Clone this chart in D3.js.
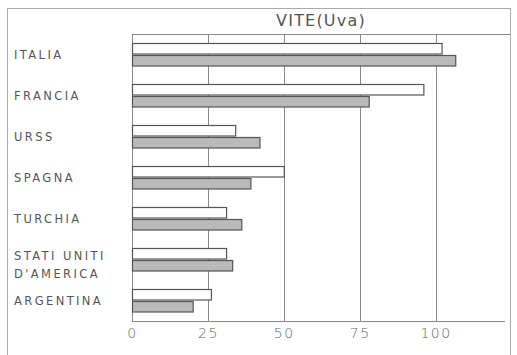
<!DOCTYPE html>
<html>
<head>
<meta charset="utf-8">
<script src="https://cdn.jsdelivr.net/npm/d3@7"></script>
<style>
  html, body { margin: 0; padding: 0; background: #fff; }
  svg { display: block; }
</style>
</head>
<body>
<svg id="chart" width="517" height="355"></svg>
<script>
const title = "VITE(Uva)";
const categories = ["ITALIA", "FRANCIA", "URSS", "SPAGNA", "TURCHIA", "STATI UNITI|D'AMERICA", "ARGENTINA"];
const whiteValues = [102, 96, 34, 50, 31, 31, 26];
const grayValues = [106.5, 78, 42, 39, 36, 33, 20];
const tickValues = [0, 25, 50, 75, 100];

const svg = d3.select("#chart");
const plotLeft = 132, plotTop = 34, plotBottom = 321, plotRight = 510;

const x = d3.scaleLinear().domain([0, 100]).range([plotLeft, 435.5]);
const y = d3.scaleBand().domain(categories).range([plotTop, plotBottom]);

const lineColor = "#8a8a8a";
const textColor = "#555";

// outer frame
svg.append("rect")
  .attr("x", 7.5).attr("y", 8.5)
  .attr("width", 503).attr("height", 360)
  .attr("fill", "none").attr("stroke", "#aaa").attr("stroke-width", 1);

// title
svg.append("text")
  .attr("x", 321).attr("y", 26)
  .attr("text-anchor", "middle")
  .attr("font-family", "DejaVu Sans, sans-serif")
  .attr("font-size", 16)
  .attr("letter-spacing", 1.2)
  .attr("fill", textColor)
  .text(title);

// top and bottom lines of the plot
svg.append("line")
  .attr("x1", plotLeft).attr("x2", plotRight)
  .attr("y1", plotTop + 0.5).attr("y2", plotTop + 0.5)
  .attr("stroke", lineColor).attr("stroke-width", 1);
svg.append("line")
  .attr("x1", plotLeft).attr("x2", 505)
  .attr("y1", plotBottom + 0.5).attr("y2", plotBottom + 0.5)
  .attr("stroke", lineColor).attr("stroke-width", 1);

// vertical grid lines
svg.append("g").selectAll("line")
  .data(tickValues)
  .join("line")
  .attr("x1", d => Math.round(x(d)) + 0.5)
  .attr("x2", d => Math.round(x(d)) + 0.5)
  .attr("y1", plotTop).attr("y2", plotBottom)
  .attr("stroke", lineColor).attr("stroke-width", 1);

// bars
const barH = 10.5;
const groups = svg.append("g").selectAll("g")
  .data(categories.map((c, i) => ({c, w: whiteValues[i], g: grayValues[i]})))
  .join("g");

groups.append("rect")
  .attr("x", x(0) + 0.5)
  .attr("y", d => y(d.c) + y.bandwidth() / 2 - barH - 0.5)
  .attr("width", d => x(d.w) - x(0))
  .attr("height", barH)
  .attr("fill", "#fff")
  .attr("stroke", "#555").attr("stroke-width", 1.2);

groups.append("rect")
  .attr("x", x(0) + 0.5)
  .attr("y", d => y(d.c) + y.bandwidth() / 2 + 1)
  .attr("width", d => x(d.g) - x(0))
  .attr("height", barH)
  .attr("fill", "#bababa")
  .attr("stroke", "#555").attr("stroke-width", 1.2);

// category labels
svg.append("g").selectAll("text")
  .data(categories)
  .join("text")
  .attr("x", 14)
  .attr("y", d => y(d) + y.bandwidth() / 2)
  .attr("font-family", "DejaVu Sans, sans-serif")
  .attr("font-size", 11.5)
  .attr("letter-spacing", 2.4)
  .attr("fill", textColor)
  .each(function(d) {
    const parts = d.split("|");
    const t = d3.select(this);
    if (parts.length === 1) {
      t.append("tspan").attr("dy", "0.36em").text(parts[0]);
    } else {
      t.append("tspan").attr("x", 14).attr("dy", "0.03em").text(parts[0]);
      t.append("tspan").attr("x", 14).attr("dy", "1.6em").text(parts[1]);
    }
  });

// x tick labels
const axis = d3.axisBottom(x).tickValues(tickValues).tickSize(0).tickPadding(6);
const ax = svg.append("g").attr("transform", `translate(0,${plotBottom + 1})`).call(axis);
ax.select(".domain").remove();
ax.selectAll("text")
  .attr("font-family", "DejaVu Sans, sans-serif")
  .attr("font-size", 14)
  .attr("letter-spacing", 1.5)
  .attr("font-weight", 300)
  .attr("fill", "#666");
</script>
</body>
</html>
